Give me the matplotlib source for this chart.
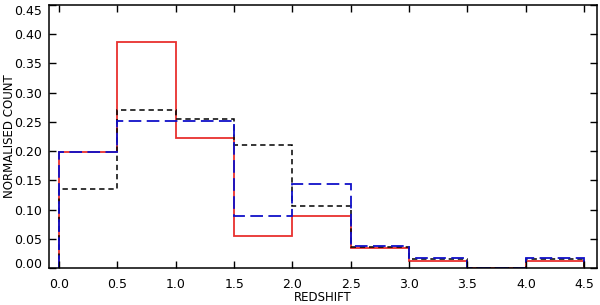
import numpy as np
import matplotlib
matplotlib.use('Agg')
import matplotlib.pyplot as plt

edges = [0.0, 0.5, 1.0, 1.5, 2.0, 2.5, 3.0, 3.5, 4.0, 4.5]
red_vals = [0.198, 0.386, 0.222, 0.056, 0.090, 0.034, 0.013, 0.0, 0.013]
black_vals = [0.135, 0.271, 0.255, 0.211, 0.106, 0.036, 0.016, 0.0, 0.016]
blue_vals = [0.198, 0.251, 0.251, 0.090, 0.144, 0.038, 0.018, 0.0, 0.018]

fig = plt.figure(figsize=(6.0, 3.05), dpi=100)
ax = fig.add_axes([0.082, 0.12, 0.913, 0.865])

ax.stairs(red_vals, edges, baseline=0, color='#e8302e', lw=1.3, ls='-')
ax.stairs(black_vals, edges, baseline=0, color='black', lw=1.1, ls=(0, (3.5, 2.5)))
ax.stairs(blue_vals, edges, baseline=0, color='#1010c8', lw=1.3, ls=(0, (7, 3)))

ax.set_xlim(-0.085, 4.61)
ax.set_ylim(0, 0.45)
ax.set_xticks(np.arange(0, 4.51, 0.5))
ax.set_yticks(np.arange(0, 0.451, 0.05))
ax.set_xticklabels(['%.1f' % v for v in np.arange(0, 4.51, 0.5)])
ax.set_yticklabels(['%.2f' % v for v in np.arange(0, 0.451, 0.05)])
ax.tick_params(direction='in', top=True, right=True, length=5, width=1,
               labelsize=9)
ax.tick_params(axis='y', pad=5)
ax.tick_params(axis='x', pad=7)
ylabs = ax.get_yticklabels()
ylabs[0].set_verticalalignment('baseline')
ylabs[-1].set_verticalalignment('top')
for s in ax.spines.values():
    s.set_linewidth(1.1)

ax.set_xlabel('REDSHIFT', fontsize=8.5, labelpad=0)
fig.text(0.016, 0.554, 'NORMALISED COUNT', fontsize=8.5, rotation=90,
         ha='center', va='center')

fig.savefig('out.png', dpi=100)
